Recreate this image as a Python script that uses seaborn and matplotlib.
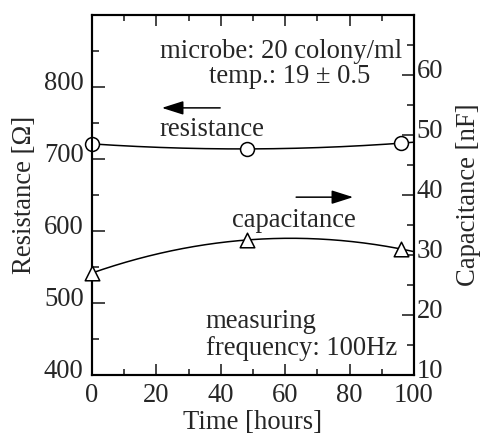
import numpy as np
import pandas as pd
import matplotlib
matplotlib.use("Agg")
import matplotlib.pyplot as plt
from matplotlib.ticker import MultipleLocator
from matplotlib.transforms import ScaledTranslation
import seaborn as sns

# ---- data ----
time_h = [0, 48, 96]
resistance = [721, 714, 722]      # ohm (left axis)
capacitance = [27.0, 32.5, 31.0]  # nF (right axis)

x_ticks = [0, 20, 40, 60, 80, 100]
left_ticks = [400, 500, 600, 700, 800]
right_ticks = [10, 20, 30, 40, 50, 60]

sns.set_theme(style="ticks")
plt.rcParams["font.family"] = ["Liberation Serif", "DejaVu Serif"]

FS = 19.2
fig = plt.figure(figsize=(4.8, 4.34), dpi=100)
ax = fig.add_axes([92/480, 59/434, 322/480, 360/434])
ax2 = ax.twinx()

df = pd.DataFrame({"t": time_h, "R": resistance, "C": capacitance})
tt = np.linspace(0, 100, 200)
fitR = np.polyval(np.polyfit(time_h, resistance, 2), tt)
fitC = np.polyval(np.polyfit(time_h, capacitance, 2), tt)
curves = pd.DataFrame({"t": tt, "R": fitR, "C": fitC})

sns.lineplot(data=curves, x="t", y="R", ax=ax, color="black", lw=1.1, zorder=2)
sns.lineplot(data=curves, x="t", y="C", ax=ax2, color="black", lw=1.1, zorder=2)
sns.scatterplot(data=df, x="t", y="R", ax=ax, marker="o", s=100, facecolor="white",
                edgecolor="black", linewidth=1.1, zorder=3, clip_on=False)
sns.scatterplot(data=df, x="t", y="C", ax=ax2, marker="^", s=110, facecolor="white",
                edgecolor="black", linewidth=1.1, zorder=3, clip_on=False)

ax.set_xlim(0, 100)
ax.set_ylim(400, 900)
ax2.set_ylim(10, 70)

ax.set_xticks(x_ticks)
ax.set_yticks(left_ticks)
ax.xaxis.set_minor_locator(MultipleLocator(10))
ax.yaxis.set_minor_locator(MultipleLocator(50))
ax2.set_yticks(right_ticks)
ax2.yaxis.set_minor_locator(MultipleLocator(5))

ax.tick_params(axis="x", which="both", direction="in", top=True, bottom=True,
               labelsize=FS, pad=6, width=1.2)
ax.tick_params(axis="y", which="both", direction="in", left=True, right=False,
               labelsize=FS, pad=6, width=1.2)
ax2.tick_params(axis="y", which="both", direction="in", right=True, left=False,
                labelsize=FS, pad=2, width=1.2)
for a in (ax, ax2):
    a.tick_params(which="major", length=9)
    a.tick_params(which="minor", length=5)
    for s in a.spines.values():
        s.set_visible(True)
        s.set_linewidth(1.5)
        s.set_color("black")
ax.tick_params(axis="x", which="major", length=8)
ax.tick_params(axis="x", which="minor", length=4)

# tick labels sit slightly above their ticks in the reference
shift = ScaledTranslation(0, 5/72, fig.dpi_scale_trans)
for lab in ax.get_yticklabels() + ax2.get_yticklabels():
    lab.set_transform(lab.get_transform() + shift)

ax.set_xlabel("Time [hours]", fontsize=FS)
ax.set_ylabel("Resistance [Ω]", fontsize=FS)
ax2.set_ylabel("Capacitance [nF]", fontsize=FS)
ax.xaxis.set_label_coords(0.5, -0.098)
ax.yaxis.set_label_coords(-0.17, 0.5)
ax2.yaxis.set_label_coords(1.13, 0.5)

ax.text(58.7, 840, "microbe: 20 colony/ml", fontsize=FS, ha="center", va="baseline")
ax.text(61.5, 806, "temp.: 19 ± 0.5", fontsize=FS, ha="center", va="baseline")
ax.text(37.3, 732, "resistance", fontsize=FS, ha="center", va="baseline")
ax.text(62.7, 606, "capacitance", fontsize=FS, ha="center", va="baseline")
ax.text(35.3, 465, "measuring", fontsize=FS, ha="left", va="baseline")
ax.text(35.3, 428, "frequency: 100Hz", fontsize=FS, ha="left", va="baseline")

arrow = dict(arrowstyle="-|>,head_length=1.1,head_width=0.35", color="black",
             lw=1.1, mutation_scale=12, shrinkA=0, shrinkB=0)
ax.annotate("", xy=(21.7, 771), xytext=(39.8, 771), arrowprops=arrow)
ax.annotate("", xy=(81.1, 647), xytext=(63.4, 647), arrowprops=arrow)

fig.savefig("out.png", dpi=100)
